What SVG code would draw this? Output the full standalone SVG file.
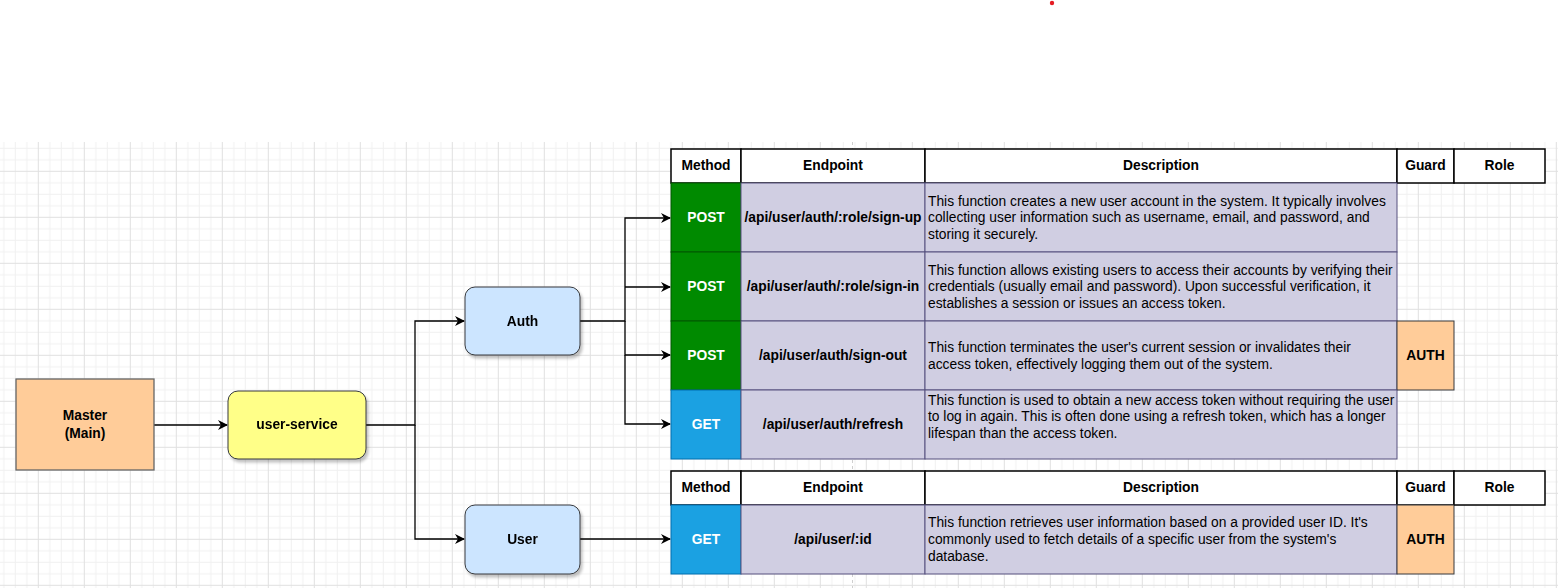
<svg xmlns="http://www.w3.org/2000/svg" width="1558" height="588" viewBox="0 0 1558 588">
<style>
  text { font-family: "Liberation Sans", Arial, sans-serif; font-size: 13.8px; fill: #000; }
  .b { font-weight: bold; }
  .c { text-anchor: middle; }
  .w { fill: #fff; }
  .hdr { fill: #fff; stroke: #000; stroke-width: 1.5; }
  .cell { fill: #d0cee2; stroke: #56517e; stroke-width: 1; }
  .post { fill: #008a00; stroke: #005700; stroke-width: 1; }
  .get { fill: #1ba1e2; stroke: #006eaf; stroke-width: 1; }
  .guard { fill: #ffcc99; stroke: #36393d; stroke-width: 1; }
  .conn { fill: none; stroke: #000; stroke-width: 1.3; }
  .node { stroke: #36393d; stroke-width: 1; }
</style>
<defs>
  <pattern id="grid" patternUnits="userSpaceOnUse" x="37.8" y="170.8" width="46" height="46">
    <path d="M12 0.5V46M23.5 0V46M35 0V46M0 12H46M0 23.5H46M0 35H46" fill="none" stroke="#f0f0f0" stroke-width="1"/>
    <path d="M0.5 0V46M0 0.5H46" fill="none" stroke="#e0e0e0" stroke-width="1"/>
  </pattern>
  <marker id="arr" viewBox="0 0 10 10" refX="9" refY="5" markerWidth="10" markerHeight="10" markerUnits="userSpaceOnUse" orient="auto">
    <path d="M0 0L10 5L0 10L3 5Z" fill="#000"/>
  </marker>
  <filter id="sh" x="-20%" y="-20%" width="140%" height="150%">
    <feGaussianBlur in="SourceAlpha" stdDeviation="1.5"/>
    <feOffset dx="2" dy="3" result="o"/>
    <feComponentTransfer><feFuncA type="linear" slope="0.25"/></feComponentTransfer>
    <feMerge><feMergeNode/><feMergeNode in="SourceGraphic"/></feMerge>
  </filter>
</defs>
<rect x="0" y="0" width="1558" height="588" fill="#fff"/>
<rect x="0" y="142" width="1558" height="446" fill="url(#grid)"/>
<line x1="852.5" y1="142" x2="852.5" y2="588" stroke="#cfcfcf" stroke-width="1" stroke-dasharray="3,3"/>
<circle cx="1052" cy="3" r="2.2" fill="#e51c23"/>

<g id="connectors">
  <path class="conn" d="M154 425H227" marker-end="url(#arr)"/>
  <path class="conn" d="M366 425H415V321H464" marker-end="url(#arr)"/>
  <path class="conn" d="M415 425V539H464" marker-end="url(#arr)"/>
  <path class="conn" d="M580 321H625V218H670" marker-end="url(#arr)"/>
  <path class="conn" d="M625 287H670" marker-end="url(#arr)"/>
  <path class="conn" d="M625 321V355H670" marker-end="url(#arr)"/>
  <path class="conn" d="M625 355V424H670" marker-end="url(#arr)"/>
  <path class="conn" d="M580 539H670" marker-end="url(#arr)"/>
</g>

<g id="master">
  <rect x="16" y="379" width="138" height="91" fill="#ffcc99" stroke="#666" stroke-width="1.3"/>
  <text class="b c" x="85" y="420">Master</text>
  <text class="b c" x="85" y="438">(Main)</text>
</g>
<g id="user-service" filter="url(#sh)">
  <rect class="node" x="228" y="391" width="138" height="68" rx="10" fill="#ffff88"/>
  <text class="b c" x="297" y="429">user-service</text>
</g>
<g id="auth" filter="url(#sh)">
  <rect class="node" x="465" y="287" width="115" height="68" rx="10" fill="#cce5ff"/>
  <text class="b c" x="522.5" y="325.5">Auth</text>
</g>
<g id="user" filter="url(#sh)">
  <rect class="node" x="465" y="505" width="115" height="69" rx="10" fill="#cce5ff"/>
  <text class="b c" x="522.5" y="543.5">User</text>
</g>

<g id="auth-table">
  <rect class="hdr" x="671" y="149" width="70" height="34"/>
  <rect class="hdr" x="741" y="149" width="184" height="34"/>
  <rect class="hdr" x="925" y="149" width="472" height="34"/>
  <rect class="hdr" x="1397" y="149" width="57" height="34"/>
  <rect class="hdr" x="1454" y="149" width="91" height="34"/>
  <text class="b c" x="706" y="170">Method</text>
  <text class="b c" x="833" y="170">Endpoint</text>
  <text class="b c" x="1161" y="170">Description</text>
  <text class="b c" x="1425.5" y="170">Guard</text>
  <text class="b c" x="1499.5" y="170">Role</text>

  <g id="row-sign-up">
    <rect class="post" x="671" y="183" width="70" height="69"/>
    <rect class="cell" x="741" y="183" width="184" height="69"/>
    <rect class="cell" x="925" y="183" width="472" height="69"/>
    <text class="b c w" x="706" y="222">POST</text>
    <text class="b c" x="833" y="222">/api/user/auth/:role/sign-up</text>
    <text x="928" y="205.5">This function creates a new user account in the system. It typically involves</text>
    <text x="928" y="222">collecting user information such as username, email, and password, and</text>
    <text x="928" y="238.5">storing it securely.</text>
  </g>
  <g id="row-sign-in">
    <rect class="post" x="671" y="252" width="70" height="69"/>
    <rect class="cell" x="741" y="252" width="184" height="69"/>
    <rect class="cell" x="925" y="252" width="472" height="69"/>
    <text class="b c w" x="706" y="291">POST</text>
    <text class="b c" x="833" y="291">/api/user/auth/:role/sign-in</text>
    <text x="928" y="274.5">This function allows existing users to access their accounts by verifying their</text>
    <text x="928" y="291">credentials (usually email and password). Upon successful verification, it</text>
    <text x="928" y="307.5">establishes a session or issues an access token.</text>
  </g>
  <g id="row-sign-out">
    <rect class="post" x="671" y="321" width="70" height="69"/>
    <rect class="cell" x="741" y="321" width="184" height="69"/>
    <rect class="cell" x="925" y="321" width="472" height="69"/>
    <rect class="guard" x="1397" y="321" width="57" height="69"/>
    <text class="b c w" x="706" y="360">POST</text>
    <text class="b c" x="833" y="360">/api/user/auth/sign-out</text>
    <text x="928" y="351.5">This function terminates the user's current session or invalidates their</text>
    <text x="928" y="368.5">access token, effectively logging them out of the system.</text>
    <text class="b c" x="1425.5" y="360">AUTH</text>
  </g>
  <g id="row-refresh">
    <rect class="get" x="671" y="390" width="70" height="69"/>
    <rect class="cell" x="741" y="390" width="184" height="69"/>
    <rect class="cell" x="925" y="390" width="472" height="69"/>
    <text class="b c w" x="706" y="429">GET</text>
    <text class="b c" x="833" y="429">/api/user/auth/refresh</text>
    <text x="928" y="404.5">This function is used to obtain a new access token without requiring the user</text>
    <text x="928" y="421">to log in again. This is often done using a refresh token, which has a longer</text>
    <text x="928" y="437.5">lifespan than the access token.</text>
  </g>
</g>

<g id="user-table">
  <rect class="hdr" x="671" y="471" width="70" height="34"/>
  <rect class="hdr" x="741" y="471" width="184" height="34"/>
  <rect class="hdr" x="925" y="471" width="472" height="34"/>
  <rect class="hdr" x="1397" y="471" width="57" height="34"/>
  <rect class="hdr" x="1454" y="471" width="91" height="34"/>
  <text class="b c" x="706" y="492">Method</text>
  <text class="b c" x="833" y="492">Endpoint</text>
  <text class="b c" x="1161" y="492">Description</text>
  <text class="b c" x="1425.5" y="492">Guard</text>
  <text class="b c" x="1499.5" y="492">Role</text>
  <g id="row-user-id">
    <rect class="get" x="671" y="505" width="70" height="69"/>
    <rect class="cell" x="741" y="505" width="184" height="69"/>
    <rect class="cell" x="925" y="505" width="472" height="69"/>
    <rect class="guard" x="1397" y="505" width="57" height="69"/>
    <text class="b c w" x="706" y="544">GET</text>
    <text class="b c" x="833" y="544">/api/user/:id</text>
    <text x="928" y="526.5">This function retrieves user information based on a provided user ID. It's</text>
    <text x="928" y="543.5">commonly used to fetch details of a specific user from the system's</text>
    <text x="928" y="560.5">database.</text>
    <text class="b c" x="1425.5" y="544">AUTH</text>
  </g>
</g>
</svg>
